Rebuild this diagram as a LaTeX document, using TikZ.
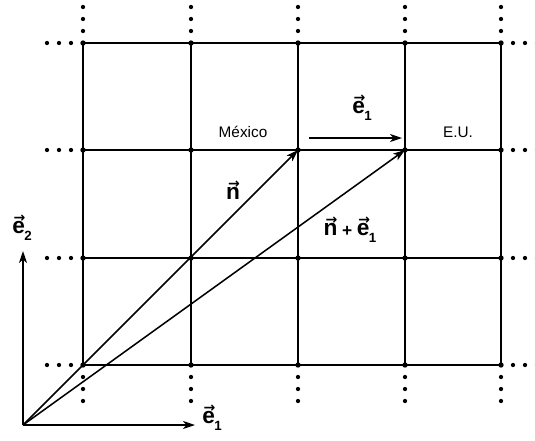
\documentclass[tikz,border=0pt]{standalone}
\usepackage{graphicx}
\usepackage{fontspec}
\setmainfont{Liberation Sans}
\newfontfamily\arrfont{DejaVu Sans}
\usetikzlibrary{arrows.meta,calc}
\newcommand\bvx[1]{\leavevmode\setbox0\hbox{\bfseries #1}%
  \rlap{\hbox to \wd0{\hss\kern1.5pt\raisebox{\dimexpr\ht0-1.2pt\relax}{\scalebox{0.62}{\arrfont\bfseries →}}\hss}}\box0}
\newcommand\subx[1]{\raisebox{-5.5pt}{\fontsize{10}{10}\selectfont\bfseries #1}}
\begin{document}
\begin{tikzpicture}[x=0.75pt,y=-0.75pt,
  gridline/.style={line width=1.5pt},
  vecarrow/.style={line width=1.15pt,-{Stealth[length=9pt,width=6pt,inset=2.5pt]}},
  veclab/.style={font=\fontsize{17}{18}\selectfont},
  placelab/.style={font=\fontsize{11.5}{13}\selectfont}]
\useasboundingbox (0,0) rectangle (535,440);
\foreach \i/\x in {0/83,1/191,2/298,3/405,4/501}
  \foreach \j/\y in {0/43,1/150,2/258,3/365}
    \coordinate (g\i\j) at (\x,\y);
\foreach \j in {0,...,3} \draw[gridline] (g0\j) -- (g4\j);
\foreach \i in {0,...,4} \draw[gridline] (g\i0) -- (g\i3);
\foreach \i in {0,...,4} \foreach \j in {0,...,3} \fill (g\i\j) circle[radius=2pt];
\foreach \k in {12,24,36} {
  \foreach \j in {0,...,3} {
    \fill ($(g0\j)+(-\k,0)$) circle[radius=1.6pt];
    \fill ($(g4\j)+(\k,0)$) circle[radius=1.6pt];
  }
  \foreach \i in {0,...,4} {
    \fill ($(g\i0)+(0,-\k)$) circle[radius=1.6pt];
    \fill ($(g\i3)+(0,\k)$) circle[radius=1.6pt];
  }
}
\coordinate (O) at (23,425);
\coordinate (e1tip) at (195,425);
\coordinate (e2tip) at (23,251);
\coordinate (m1) at (309,138);
\coordinate (m2) at (402,138);
\draw[vecarrow] (O) -- (e1tip);
\draw[vecarrow] (O) -- (e2tip);
\draw[vecarrow] (O) -- (g21);
\draw[vecarrow] (O) -- (g31);
\draw[vecarrow] (m1) -- (m2);
\node[placelab] (mex) at (243,132) {México};
\node[placelab] (eu) at (458,132) {E.U.};
\node[veclab] (le1m) at (362,108) {\bvx{e}\kern-0.5pt\subx{1}};
\node[veclab] (ln) at (233,190) {\bvx{n}};
\node[veclab] (lne) at (350,230) {\bvx{n}\kern3.5pt\raisebox{-1pt}{\fontsize{13}{13}\selectfont\bfseries +}\kern3.5pt\bvx{e}\kern-0.5pt\subx{1}};
\node[veclab] (le2) at (22,228) {\bvx{e}\kern-0.5pt\subx{2}};
\node[veclab] (le1b) at (212,418) {\bvx{e}\kern-0.5pt\subx{1}};
\end{tikzpicture}
\end{document}
